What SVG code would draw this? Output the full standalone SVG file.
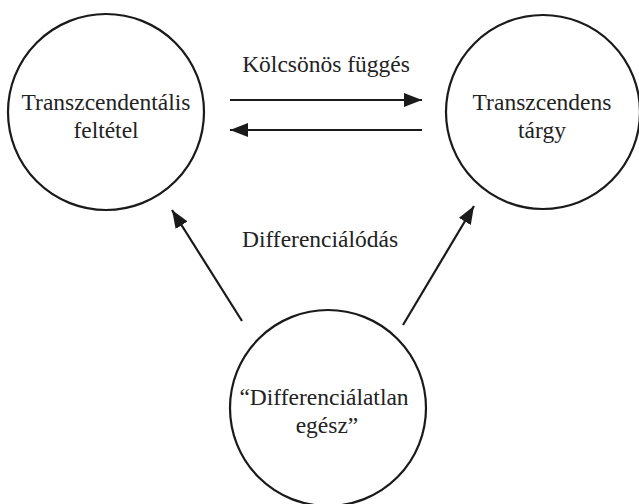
<svg xmlns="http://www.w3.org/2000/svg" width="639" height="504" viewBox="0 0 639 504">
<style>
.node circle{fill:none;stroke:#1a1a1a;stroke-width:2.2}
text{font-family:'Liberation Serif','Times New Roman',serif;font-size:23.5px;fill:#222;text-anchor:middle}
.conn line{stroke:#1a1a1a;stroke-width:2.2}
</style>
<defs>
<marker id="ah" markerWidth="18" markerHeight="14" refX="18" refY="7" orient="auto" markerUnits="userSpaceOnUse">
<path d="M0,0 L18,7 L0,14 Z" fill="#1a1a1a"/>
</marker>
</defs>
<rect width="639" height="504" fill="#fff"/>
<g id="n1" class="node">
<circle cx="106" cy="112" r="98"/>
<text x="106" y="110">Transzcendentális</text>
<text x="106" y="138">feltétel</text>
</g>
<g id="n2" class="node">
<circle cx="543" cy="112" r="97"/>
<text x="542" y="110">Transzcendens</text>
<text x="542" y="138">tárgy</text>
</g>
<g id="n3" class="node">
<circle cx="328" cy="408" r="98"/>
<text x="324" y="405">“Differenciálatlan</text>
<text x="327" y="433">egész”</text>
</g>
<g id="connectors" class="conn">
<line x1="230" y1="100" x2="422" y2="100" marker-end="url(#ah)"/>
<line x1="422" y1="130" x2="230" y2="130" marker-end="url(#ah)"/>
<line x1="242" y1="321" x2="172" y2="210" marker-end="url(#ah)"/>
<line x1="403" y1="325" x2="474" y2="206" marker-end="url(#ah)"/>
<text x="326" y="72">Kölcsönös függés</text>
<text x="320" y="247">Differenciálódás</text>
</g>
</svg>
